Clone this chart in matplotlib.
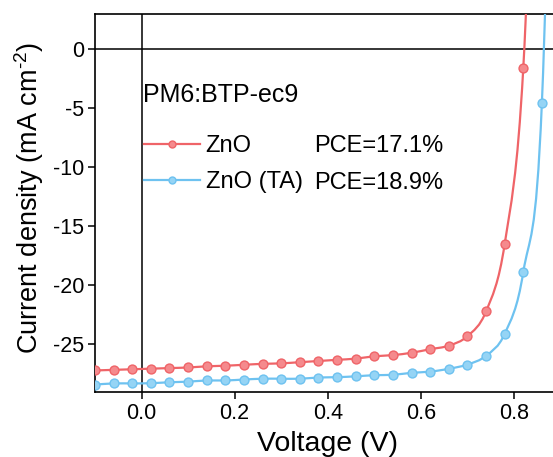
import matplotlib
matplotlib.use("Agg")
import matplotlib.pyplot as plt
import numpy as np
from matplotlib.lines import Line2D
from matplotlib.patches import PathPatch
from matplotlib.path import Path

plt.rcParams["font.family"] = ["Liberation Sans", "DejaVu Sans"]
plt.rcParams["mathtext.fontset"] = "custom"
plt.rcParams["mathtext.rm"] = "Liberation Sans"
plt.rcParams["axes.unicode_minus"] = False

# J-V sweep, 40 mV steps
voltage = [-0.10, -0.06, -0.02, 0.02, 0.06, 0.10, 0.14, 0.18, 0.22, 0.26,
           0.30, 0.34, 0.38, 0.42, 0.46, 0.50, 0.54, 0.58, 0.62, 0.66,
           0.70, 0.74, 0.78, 0.82, 0.86, 0.90]
j_zno = [-27.2, -27.15, -27.1, -27.05, -27.0, -26.95, -26.85, -26.8, -26.72, -26.64,
         -26.6, -26.5, -26.4, -26.3, -26.2, -26.0, -25.9, -25.7, -25.4, -25.1,
         -24.3, -22.2, -16.5, -1.58, 40.0]
j_zno_ta = [-28.4, -28.3, -28.3, -28.28, -28.2, -28.15, -28.05, -28.05, -27.97, -27.9,
            -27.9, -27.9, -27.8, -27.77, -27.7, -27.6, -27.57, -27.4, -27.3, -27.06,
            -26.7, -25.96, -24.1, -18.87, -4.5, 55.0]

labels = ["ZnO", "ZnO (TA)"]
pce = ["PCE=17.1%", "PCE=18.9%"]
colors = ["#EF6468", "#6EC2F0"]
face_colors = ["#F58A8D", "#95D4F5"]


def smooth_path(x, y):
    """Catmull-Rom curve through the points, as cubic Bezier segments."""
    pts = np.column_stack([x, y])
    ext = np.vstack([pts[0], pts, pts[-1]])
    verts = [pts[0]]
    codes = [Path.MOVETO]
    for i in range(len(pts) - 1):
        p0, p1, p2, p3 = ext[i], ext[i + 1], ext[i + 2], ext[i + 3]
        verts += [p1 + (p2 - p0) / 6, p2 - (p3 - p1) / 6, p2]
        codes += [Path.CURVE4] * 3
    return Path(verts, codes)


fig = plt.figure(figsize=(5.53, 4.57), dpi=100)
ax = fig.add_axes([0.1718, 0.1429, 0.8418, 0.8265])

for jv, lab, c, fc in zip([j_zno, j_zno_ta], labels, colors, face_colors):
    v = voltage[:len(jv)]
    ax.add_patch(PathPatch(smooth_path(v, jv), fill=False, edgecolor=c, lw=1.6, zorder=3))
    ax.plot(v, jv, ls="none", marker="o", ms=6.4, mfc=fc, mec=c, mew=1.0, zorder=4)

ax.axhline(0, color="black", lw=1.1, zorder=2)
ax.axvline(0, color="black", lw=1.1, zorder=2)

ax.set_xlim(-0.1, 0.9)
ax.set_ylim(-29, 3)
ax.set_xticks([0.0, 0.2, 0.4, 0.6, 0.8])
ax.set_yticks([0, -5, -10, -15, -20, -25])
ax.xaxis.set_major_formatter(matplotlib.ticker.FormatStrFormatter("%.1f"))
ax.tick_params(direction="out", length=5, width=1.1, labelsize=15.5, pad=3)
for s in ax.spines.values():
    s.set_linewidth(1.2)

ax.set_xlabel("Voltage (V)", fontsize=20.5)
ax.xaxis.set_label_coords(0.5, -0.105)
ax.set_ylabel(r"Current density (mA cm$^{\text{-2}}$)", fontsize=19.5)
ax.yaxis.set_label_coords(-0.106, 0.514)

ax.text(0.003, -3.9, "PM6:BTP-ec9", fontsize=18, va="center", ha="left")

handles = [Line2D([], [], color=c, lw=1.6, marker="o", ms=5, mfc=fc, mec=c)
           for c, fc in zip(colors, face_colors)]
ax.legend(handles, labels, loc="upper left", bbox_to_anchor=(144 / 553, 1 - 135 / 457),
          bbox_transform=fig.transFigure, frameon=False, fontsize=17,
          handlelength=2.37, handletextpad=0.24, labelspacing=0.6,
          borderaxespad=0, borderpad=0)
for k, t in enumerate(pce):
    ax.text(314 / 553, 1 - (145.5 + 37.4 * k) / 457, t, transform=fig.transFigure,
            fontsize=17, va="center", ha="left")

fig.savefig("out.png", dpi=100)
